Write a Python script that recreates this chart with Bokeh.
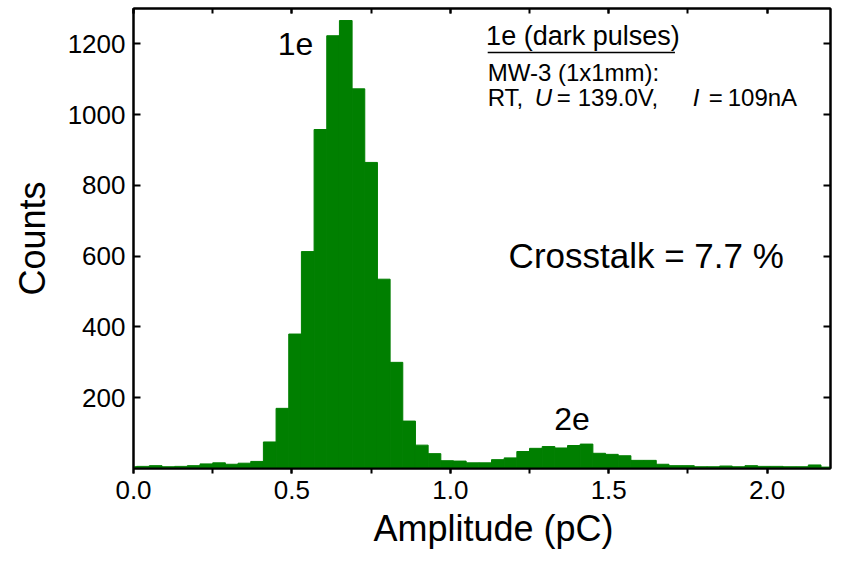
from bokeh.plotting import figure
from bokeh.models import (Range1d, LinearAxis, FixedTicker, SingleIntervalTicker,
                          NumeralTickFormatter, Label, CustomJSTickFormatter, Title)
from bokeh.embed import file_html
from bokeh.resources import INLINE

# ---- data ----
bin_width = 0.04
bin_centers = [-0.01, 0.03, 0.07, 0.11, 0.15, 0.19, 0.23, 0.27, 0.31, 0.35,
               0.39, 0.43, 0.47, 0.51, 0.55, 0.59, 0.63, 0.67, 0.71, 0.75,
               0.79, 0.83, 0.87, 0.91, 0.95, 0.99, 1.03, 1.07, 1.11, 1.15,
               1.19, 1.23, 1.27, 1.31, 1.35, 1.39, 1.43, 1.47, 1.51, 1.55,
               1.59, 1.63, 1.67, 1.71, 1.75, 1.79, 1.83, 1.87, 1.91, 1.95,
               1.99, 2.03, 2.07, 2.11, 2.15, 2.19]
counts = [5, 6, 8, 5, 6, 8, 13, 16, 12, 15,
          20, 75, 170, 380, 613, 958, 1223, 1266, 1073, 865,
          535, 300, 134, 66, 42, 22, 21, 16, 16, 25,
          30, 48, 57, 62, 58, 65, 69, 43, 40, 36,
          23, 23, 12, 8, 8, 5, 5, 7, 5, 8,
          6, 6, 5, 5, 10, 4]
y_ticks = [200, 400, 600, 800, 1000, 1200]
x_range = (0.0, 2.2)
y_range = (0, 1300)

FONT = "Liberation Sans"
GREEN = "#007f00"

p = figure(width=832, height=564, output_backend="svg", toolbar_location=None,
           x_range=Range1d(*x_range), y_range=Range1d(*y_range),
           x_axis_location=None, y_axis_location=None,
           min_border_left=133, min_border_right=2, min_border_top=8,
           min_border_bottom=96)
p.grid.visible = False
p.outline_line_color = "black"
p.outline_line_width = 2
p.background_fill_color = "white"
p.border_fill_color = "white"

lefts = [c - bin_width / 2 for c in bin_centers]
rights = [c + bin_width / 2 for c in bin_centers]
p.quad(left=lefts, right=rights, bottom=0, top=counts,
       fill_color=GREEN, line_color=GREEN, line_width=1)

blank = CustomJSTickFormatter(code="return '';")

xb = LinearAxis(ticker=SingleIntervalTicker(interval=0.5, num_minor_ticks=2),
                formatter=NumeralTickFormatter(format="0.0"))
yl = LinearAxis(ticker=FixedTicker(ticks=y_ticks, minor_ticks=[]),
                axis_label="Counts")
xt = LinearAxis(ticker=SingleIntervalTicker(interval=0.5, num_minor_ticks=2),
                formatter=blank)
yr = LinearAxis(ticker=FixedTicker(ticks=y_ticks, minor_ticks=[]), formatter=blank)

for ax in (xb, yl, xt, yr):
    ax.axis_line_width = 2
    ax.axis_line_color = "black"
    ax.major_tick_line_width = 2
    ax.minor_tick_line_width = 2
    ax.major_tick_line_color = "black"
    ax.minor_tick_line_color = "black"
    ax.major_label_text_font = FONT
    ax.major_label_text_color = "black"
    ax.axis_label_text_font = FONT
    ax.axis_label_text_font_style = "normal"
    ax.axis_label_text_color = "black"

xb.major_tick_in, xb.major_tick_out = 0, 5
xb.minor_tick_in, xb.minor_tick_out = 0, 5
xb.major_label_text_font_size = "26px"
xb.major_label_standoff = 7

yl.major_tick_in, yl.major_tick_out = 7, 0
yl.major_label_text_font_size = "26px"
yl.major_label_standoff = 8
yl.axis_label_text_font_size = "36px"
yl.axis_label_standoff = 12

xt.major_tick_in, xt.major_tick_out = 5, 0
xt.minor_tick_in, xt.minor_tick_out = 5, 0
xt.major_label_text_font_size = "0px"
xt.major_label_standoff = 0

yr.major_tick_in, yr.major_tick_out = 7, 0
yr.major_label_text_font_size = "0px"
yr.major_label_standoff = 0

p.add_layout(xb, "below")
p.add_layout(yl, "left")
p.add_layout(xt, "above")
p.add_layout(yr, "right")

# x-axis title, slightly right of centre as in the original
p.add_layout(Title(text="Amplitude (pC)", align="left", offset=240,
                   text_font=FONT, text_font_size="36px",
                   text_font_style="normal", text_color="black",
                   standoff=9), "below")

# ---- annotations ----
BASE_SHIFT = 0.36  # compensate baseline placement of labels (em)

def lab(x, y, text, size, style="normal", x_offset=0):
    p.add_layout(Label(x=x, y=y, text=text, text_font=FONT,
                       text_font_size=f"{size}px", text_font_style=style,
                       text_color="black", text_baseline="alphabetic",
                       text_align="left", x_offset=x_offset,
                       y_offset=BASE_SHIFT * size))

lab(0.455, 1166, "1e", 32)
lab(1.328, 107, "2e", 32)
lab(1.184, 565, "Crosstalk = 7.7 %", 35)
lab(1.113, 1195, "1e (dark pulses)", 27)
p.segment(x0=[1.118], x1=[1.709], y0=[1176], y1=[1176], line_color="black",
          line_width=1.5)
lab(1.118, 1094, "MW-3 (1x1mm):", 24)

parts = [("RT,", "normal", 0), ("U", "italic", 47), ("=", "normal", 69),
         ("139.0V,", "normal", 90), ("I", "italic", 205), ("=", "normal", 221),
         ("109nA", "normal", 240)]
for t, st, off in parts:
    lab(1.118, 1025, t, 24, st, x_offset=off)

open("out.html", "w").write(file_html(p, INLINE))
